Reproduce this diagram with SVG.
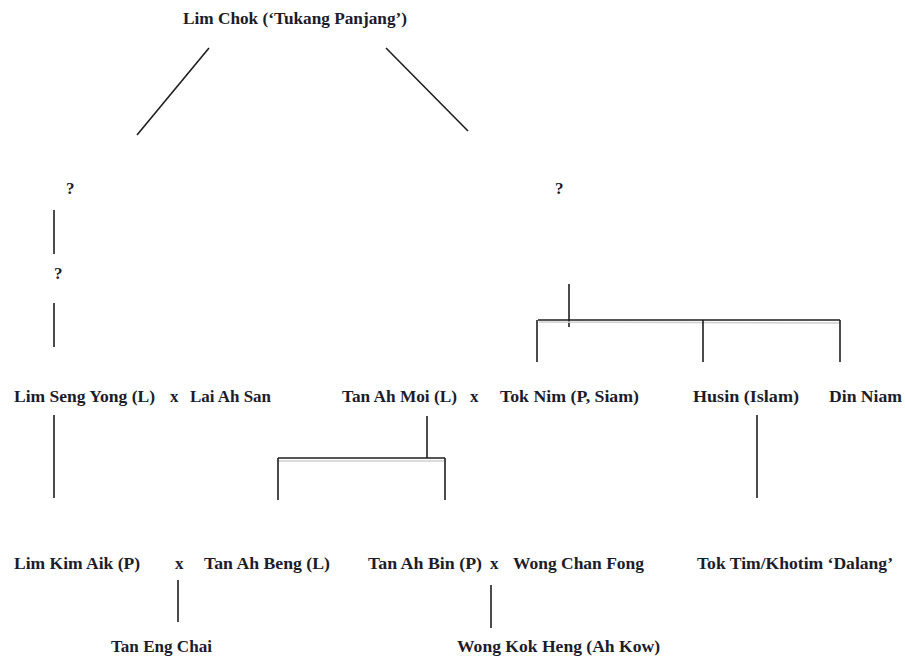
<svg xmlns="http://www.w3.org/2000/svg" width="905" height="660" viewBox="0 0 905 660">
<style>
text{font-family:"Liberation Serif","DejaVu Serif",serif;font-weight:bold;font-size:17px;fill:#1c1c2a}
.ln{stroke:#1e1e1e;stroke-width:1.6;fill:none}
.sh{stroke:#cfcfcf;stroke-width:1.5;fill:none}
</style>
<rect width="905" height="660" fill="#fff"/>
<g id="connectors">
<line class="ln" x1="209" y1="48" x2="137" y2="135"/>
<line class="ln" x1="386" y1="48" x2="468" y2="131"/>
<line class="ln" x1="54" y1="210" x2="54" y2="254"/>
<line class="ln" x1="54" y1="303" x2="54" y2="347"/>
<line class="ln" x1="569" y1="284" x2="569" y2="327"/>
<line class="sh" x1="539" y1="322" x2="840" y2="323"/>
<line class="ln" x1="538" y1="320" x2="840" y2="320"/>
<line class="ln" x1="537" y1="320" x2="537" y2="362"/>
<line class="ln" x1="703" y1="320" x2="703" y2="362"/>
<line class="ln" x1="840" y1="320" x2="840" y2="362"/>
<line class="ln" x1="427" y1="416" x2="427" y2="458"/>
<line class="sh" x1="278" y1="461" x2="445" y2="461"/>
<line class="ln" x1="278" y1="458" x2="445" y2="458"/>
<line class="ln" x1="278" y1="458" x2="278" y2="500"/>
<line class="ln" x1="445" y1="458" x2="445" y2="500"/>
<line class="ln" x1="54" y1="415" x2="54" y2="498"/>
<line class="ln" x1="757" y1="415" x2="757" y2="498"/>
<line class="ln" x1="178" y1="580" x2="178" y2="622"/>
<line class="ln" x1="491" y1="585" x2="491" y2="628"/>
</g>
<g id="lim-chok"><text x="183" y="24" textLength="224" lengthAdjust="spacingAndGlyphs">Lim Chok (‘Tukang Panjang’)</text></g>
<g id="unknown-left-1"><text x="66" y="194">?</text></g>
<g id="unknown-left-2"><text x="54" y="279">?</text></g>
<g id="unknown-right"><text x="555" y="194">?</text></g>
<g id="lim-seng-yong"><text x="14" y="402" textLength="141" lengthAdjust="spacingAndGlyphs">Lim Seng Yong (L)</text></g>
<g id="marriage-1"><text x="170" y="402">x</text></g>
<g id="lai-ah-san"><text x="190" y="402" textLength="81" lengthAdjust="spacingAndGlyphs">Lai Ah San</text></g>
<g id="tan-ah-moi"><text x="342" y="402" textLength="115" lengthAdjust="spacingAndGlyphs">Tan Ah Moi (L)</text></g>
<g id="marriage-2"><text x="470" y="402">x</text></g>
<g id="tok-nim"><text x="500" y="402" textLength="139" lengthAdjust="spacingAndGlyphs">Tok Nim (P, Siam)</text></g>
<g id="husin"><text x="693" y="402" textLength="106" lengthAdjust="spacingAndGlyphs">Husin (Islam)</text></g>
<g id="din-niam"><text x="829" y="402" textLength="73" lengthAdjust="spacingAndGlyphs">Din Niam</text></g>
<g id="lim-kim-aik"><text x="14" y="569" textLength="126" lengthAdjust="spacingAndGlyphs">Lim Kim Aik (P)</text></g>
<g id="marriage-3"><text x="175" y="569">x</text></g>
<g id="tan-ah-beng"><text x="204" y="569" textLength="126" lengthAdjust="spacingAndGlyphs">Tan Ah Beng (L)</text></g>
<g id="tan-ah-bin"><text x="368" y="569" textLength="114" lengthAdjust="spacingAndGlyphs">Tan Ah Bin (P)</text></g>
<g id="marriage-4"><text x="490" y="569">x</text></g>
<g id="wong-chan-fong"><text x="513" y="569" textLength="131" lengthAdjust="spacingAndGlyphs">Wong Chan Fong</text></g>
<g id="tok-tim"><text x="697" y="569" textLength="196" lengthAdjust="spacingAndGlyphs">Tok Tim/Khotim ‘Dalang’</text></g>
<g id="tan-eng-chai"><text x="111" y="652" textLength="101" lengthAdjust="spacingAndGlyphs">Tan Eng Chai</text></g>
<g id="wong-kok-heng"><text x="457" y="652" textLength="203" lengthAdjust="spacingAndGlyphs">Wong Kok Heng (Ah Kow)</text></g>
</svg>
